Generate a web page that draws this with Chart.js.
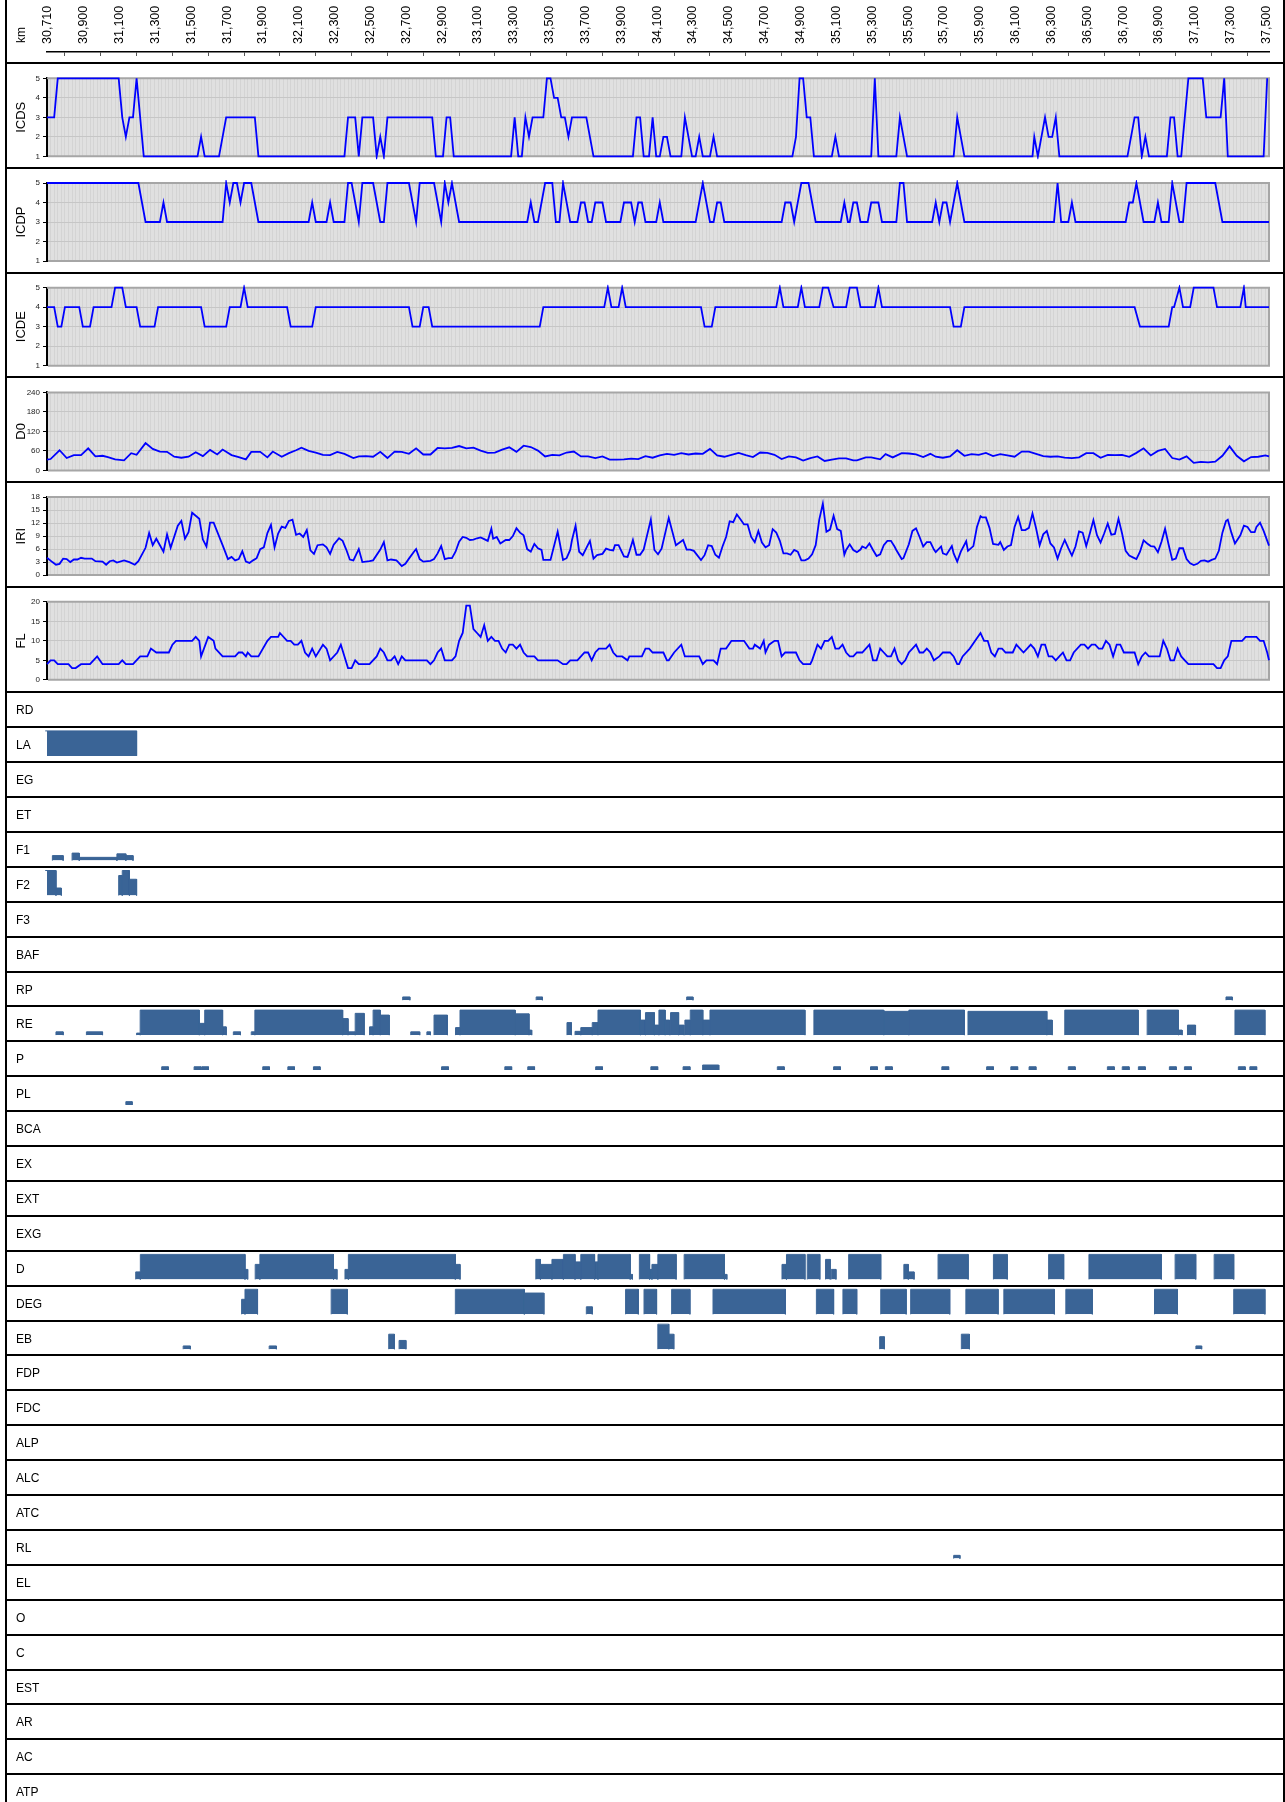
<!DOCTYPE html>
<html>
<head>
<meta charset="utf-8">
<script src="https://cdn.jsdelivr.net/npm/chart.js@4.4.0/dist/chart.umd.min.js"></script>
<style>
  body { margin: 0; background: #fff; font-family: 'Liberation Sans', Arial, sans-serif; }
  #page { position: relative; width: 1285px; height: 1802px; overflow: hidden; background: #fff; }
  #page canvas { position: absolute; left: 0; }
  .sep { position: absolute; left: 5px; width: 1280px; height: 2px; background: #000; z-index: 2; }
  .vline { position: absolute; top: 0; width: 2px; height: 1802px; background: #000; z-index: 2; }
  .lab { position: absolute; left: 16px; font-size: 12px; color: #000; height: 34px; line-height: 34px; z-index: 3; }
  #km { position: absolute; left: 14px; top: 43px; font-size: 12px; transform: rotate(-90deg); transform-origin: 0 0; z-index: 3; }
</style>
</head>
<body>
<div id="page"><div id="km">km</div></div>
<script>
const X_MIN = 30710, X_MAX = 37530;

const kmLabels = ['30,710','30,900','31,100','31,300','31,500','31,700','31,900','32,100','32,300',
  '32,500','32,700','32,900','33,100','33,300','33,500','33,700','33,900','34,100','34,300','34,500',
  '34,700','34,900','35,100','35,300','35,500','35,700','35,900','36,100','36,300','36,500','36,700',
  '36,900','37,100','37,300','37,500'];

// [km (m), value]
const icds = [[30710,3],[30750,3],[30770,5],[31110,5],[31130,3],[31150,2],[31170,3],[31190,3],[31210,5],[31250,1],[31550,1],[31570,2],[31590,1],[31670,1],[31710,3],[31870,3],[31890,1],[32370,1],[32390,3],[32430,3],[32450,1],[32470,3],[32530,3],[32550,1],[32570,2],[32590,1],[32610,3],[32860,3],[32880,1],[32920,1],[32940,3],[32960,3],[32980,1],[33300,1],[33320,3],[33340,1],[33360,1],[33380,3],[33400,2],[33420,3],[33480,3],[33500,5],[33520,5],[33540,4],[33560,4],[33580,3],[33600,3],[33620,2],[33640,3],[33720,3],[33760,1],[33980,1],[34000,3],[34020,3],[34040,1],[34070,1],[34090,3],[34110,1],[34130,1],[34150,2],[34170,2],[34190,1],[34250,1],[34270,3],[34310,1],[34330,1],[34350,2],[34370,1],[34410,1],[34430,2],[34450,1],[34870,1],[34890,2],[34910,5],[34930,5],[34950,3],[34970,3],[34990,1],[35090,1],[35110,2],[35130,1],[35310,1],[35330,5],[35350,1],[35450,1],[35470,3],[35510,1],[35770,1],[35790,3],[35830,1],[36210,1],[36220,2],[36240,1],[36280,3],[36300,2],[36320,2],[36340,3],[36360,1],[36740,1],[36780,3],[36800,3],[36820,1],[36840,2],[36860,1],[36960,1],[36980,3],[37000,3],[37020,1],[37040,1],[37080,5],[37160,5],[37180,3],[37260,3],[37280,5],[37300,1],[37500,1],[37520,5]];

const icdp = [[30710,5],[31220,5],[31260,3],[31340,3],[31360,4],[31380,3],[31690,3],[31710,5],[31730,4],[31750,5],[31770,5],[31790,4],[31810,5],[31850,5],[31890,3],[32170,3],[32190,4],[32210,3],[32270,3],[32290,4],[32310,3],[32370,3],[32390,5],[32410,5],[32450,3],[32470,5],[32530,5],[32570,3],[32590,3],[32610,5],[32730,5],[32770,3],[32790,5],[32870,5],[32910,3],[32930,5],[32950,4],[32970,5],[33010,3],[33390,3],[33410,4],[33430,3],[33450,3],[33490,5],[33530,5],[33550,3],[33570,3],[33590,5],[33630,3],[33670,3],[33690,4],[33710,4],[33730,3],[33750,3],[33770,4],[33810,4],[33830,3],[33910,3],[33930,4],[33970,4],[33990,3],[34010,4],[34030,4],[34050,3],[34110,3],[34130,4],[34150,3],[34330,3],[34370,5],[34410,3],[34430,3],[34450,4],[34470,4],[34490,3],[34810,3],[34830,4],[34860,4],[34880,3],[34920,5],[34960,5],[35000,3],[35140,3],[35160,4],[35180,3],[35190,3],[35210,4],[35230,4],[35250,3],[35290,3],[35310,4],[35350,4],[35370,3],[35450,3],[35470,5],[35490,5],[35510,3],[35650,3],[35670,4],[35690,3],[35710,4],[35730,4],[35750,3],[35790,5],[35830,3],[36330,3],[36350,5],[36370,3],[36410,3],[36430,4],[36450,3],[36730,3],[36750,4],[36770,4],[36790,5],[36830,3],[36890,3],[36910,4],[36930,3],[36970,3],[36990,5],[37030,3],[37050,3],[37070,5],[37230,5],[37270,3],[37530,3]];

const icde = [[30710,4],[30750,4],[30770,3],[30790,3],[30810,4],[30890,4],[30910,3],[30950,3],[30970,4],[31070,4],[31090,5],[31130,5],[31150,4],[31210,4],[31230,3],[31310,3],[31330,4],[31570,4],[31590,3],[31710,3],[31730,4],[31790,4],[31810,5],[31830,4],[32050,4],[32070,3],[32190,3],[32210,4],[32730,4],[32750,3],[32790,3],[32810,4],[32840,4],[32860,3],[33460,3],[33480,4],[33820,4],[33840,5],[33860,4],[33900,4],[33920,5],[33940,4],[34360,4],[34380,3],[34420,3],[34440,4],[34780,4],[34800,5],[34820,4],[34900,4],[34920,5],[34940,4],[35020,4],[35040,5],[35070,5],[35100,4],[35170,4],[35190,5],[35230,5],[35250,4],[35330,4],[35350,5],[35370,4],[35750,4],[35770,3],[35810,3],[35830,4],[36780,4],[36810,3],[36970,3],[36990,4],[37000,4],[37030,5],[37050,4],[37090,4],[37110,5],[37220,5],[37240,4],[37370,4],[37390,5],[37400,4],[37530,4]];

const d0 = [[30710,33],[30730,35],[30780,62],[30820,38],[30860,47],[30900,47],[30940,68],[30980,43],[31020,45],[31050,41],[31090,34],[31140,31],[31180,53],[31210,48],[31260,84],[31300,66],[31340,58],[31380,57],[31420,42],[31460,39],[31500,42],[31540,56],[31580,44],[31620,63],[31660,49],[31690,64],[31740,47],[31780,41],[31820,34],[31850,57],[31900,57],[31940,40],[31970,58],[32020,42],[32060,53],[32100,62],[32130,70],[32170,60],[32210,55],[32250,48],[32290,47],[32330,57],[32370,51],[32420,38],[32450,43],[32490,44],[32530,42],[32570,57],[32610,38],[32650,58],[32690,57],[32730,51],[32770,68],[32810,49],[32850,49],[32890,69],[32930,68],[32970,69],[33010,75],[33050,68],[33090,70],[33130,61],[33170,54],[33210,55],[33250,64],[33290,71],[33330,57],[33370,76],[33410,72],[33450,61],[33490,43],[33530,48],[33570,46],[33610,55],[33650,58],[33690,43],[33730,43],[33770,38],[33810,43],[33850,33],[33890,33],[33930,34],[33970,36],[34010,35],[34050,44],[34090,39],[34130,46],[34170,51],[34210,48],[34250,53],[34290,49],[34330,52],[34370,51],[34410,66],[34450,46],[34490,42],[34530,48],[34570,54],[34610,47],[34650,41],[34690,55],[34730,54],[34770,48],[34810,35],[34850,43],[34890,40],[34930,30],[34970,38],[35010,43],[35050,29],[35090,33],[35130,37],[35170,37],[35210,31],[35230,31],[35280,40],[35310,40],[35360,34],[35390,50],[35430,40],[35480,53],[35520,52],[35560,49],[35600,41],[35640,51],[35670,42],[35710,39],[35750,43],[35790,62],[35830,45],[35870,50],[35910,48],[35950,54],[35990,44],[36030,50],[36070,46],[36110,42],[36150,58],[36190,58],[36230,51],[36270,44],[36310,42],[36350,43],[36390,39],[36430,38],[36470,40],[36510,53],[36550,53],[36590,39],[36630,48],[36670,47],[36710,48],[36750,42],[36790,54],[36830,68],[36870,46],[36910,60],[36950,66],[36990,38],[37030,33],[37070,43],[37110,23],[37150,26],[37190,25],[37230,27],[37270,45],[37310,74],[37350,45],[37390,28],[37430,41],[37470,42],[37510,46],[37530,43]];

const iri = [[30710,4.0],[30740,3.0],[30760,2.4],[30780,2.6],[30800,3.8],[30820,3.7],[30840,3.0],[30860,3.6],[30880,3.6],[30900,4.0],[30920,3.8],[30960,3.8],[30980,3.2],[31020,3.1],[31040,2.4],[31060,3.2],[31080,3.4],[31100,2.9],[31140,3.4],[31170,3.0],[31200,2.4],[31220,3.2],[31260,6.3],[31280,9.7],[31300,6.9],[31320,8.4],[31360,5.4],[31380,9.4],[31400,6.3],[31440,11.4],[31460,12.5],[31480,8.4],[31500,9.9],[31520,14.4],[31560,13.0],[31580,8.2],[31600,6.6],[31620,12.1],[31640,12.1],[31690,6.9],[31720,3.7],[31740,4.2],[31760,3.4],[31780,3.7],[31800,5.5],[31820,3.1],[31840,2.8],[31860,3.4],[31880,3.9],[31900,6.0],[31920,6.4],[31940,9.7],[31960,11.6],[31980,6.4],[32000,9.6],[32020,11.2],[32040,10.9],[32060,12.5],[32080,12.8],[32100,9.3],[32120,9.6],[32140,8.8],[32160,10.4],[32180,5.7],[32200,4.9],[32220,6.9],[32250,7.1],[32270,6.4],[32290,4.9],[32310,7.0],[32340,8.5],[32360,7.9],[32380,5.9],[32400,3.6],[32420,3.4],[32450,6.0],[32470,3.0],[32510,3.2],[32530,3.4],[32570,5.9],[32590,7.6],[32610,3.4],[32630,3.6],[32660,3.4],[32670,3.0],[32690,2.1],[32710,2.6],[32730,3.8],[32760,5.5],[32770,6.0],[32790,3.7],[32810,3.1],[32850,3.3],[32870,3.7],[32890,5.0],[32910,6.7],[32930,3.7],[32950,3.9],[32970,3.9],[32990,5.4],[33010,7.7],[33030,8.8],[33050,8.6],[33070,8.1],[33090,8.2],[33110,8.5],[33130,8.7],[33150,8.3],[33170,7.9],[33190,10.7],[33200,8.4],[33220,8.8],[33240,7.3],[33270,8.1],[33290,8.1],[33310,9.0],[33330,10.8],[33350,9.8],[33370,9.2],[33390,6.0],[33410,5.4],[33430,7.2],[33450,6.2],[33470,5.8],[33480,3.5],[33520,3.5],[33560,10.0],[33590,3.5],[33610,3.9],[33630,5.8],[33640,8.1],[33660,11.4],[33680,5.4],[33700,4.6],[33740,7.9],[33760,3.8],[33780,4.6],[33810,4.9],[33830,6.1],[33850,5.8],[33870,5.7],[33880,6.9],[33900,6.9],[33930,4.3],[33950,4.2],[33960,5.4],[33980,8.1],[34000,4.7],[34020,4.7],[34040,5.9],[34080,12.8],[34100,5.8],[34120,4.8],[34140,6.1],[34180,13.2],[34220,6.9],[34260,8.1],[34280,5.9],[34300,5.9],[34320,5.6],[34360,3.5],[34380,4.6],[34400,6.9],[34420,6.7],[34440,4.7],[34460,4.0],[34480,6.6],[34500,8.8],[34520,12.4],[34540,12.2],[34560,14.0],[34580,12.9],[34600,11.7],[34620,11.7],[34640,8.8],[34660,7.6],[34680,10.2],[34700,7.5],[34720,6.4],[34740,6.9],[34760,10.6],[34780,9.8],[34800,7.9],[34820,5.0],[34840,5.0],[34860,4.7],[34880,5.8],[34900,5.4],[34920,3.4],[34940,3.4],[34960,3.8],[34980,4.8],[35000,6.9],[35020,12.8],[35040,16.5],[35060,10.0],[35080,10.5],[35100,13.7],[35120,10.6],[35140,10.2],[35160,4.7],[35170,5.8],[35190,7.1],[35210,5.8],[35230,5.3],[35250,5.9],[35260,6.6],[35280,6.2],[35300,7.3],[35320,5.8],[35340,4.4],[35360,4.8],[35380,6.9],[35400,7.9],[35420,7.9],[35440,6.6],[35450,5.8],[35480,3.7],[35490,3.9],[35520,7.1],[35540,10.2],[35560,10.8],[35580,8.8],[35600,6.6],[35620,7.6],[35640,7.6],[35660,5.9],[35670,5.3],[35700,6.6],[35710,5.0],[35730,4.7],[35760,6.7],[35770,5.0],[35790,3.1],[35810,5.4],[35840,7.8],[35850,5.6],[35880,6.7],[35900,11.1],[35920,13.6],[35930,13.3],[35950,13.3],[35970,10.9],[35990,7.2],[36020,7.0],[36030,7.6],[36050,5.8],[36070,6.6],[36090,6.9],[36110,11.1],[36130,13.4],[36150,10.4],[36170,10.4],[36190,10.9],[36210,14.2],[36230,10.8],[36250,6.9],[36270,9.4],[36290,10.2],[36310,7.3],[36330,6.4],[36350,3.8],[36370,6.2],[36390,8.1],[36410,6.2],[36430,4.5],[36450,6.6],[36470,10.1],[36490,9.8],[36510,6.7],[36530,9.6],[36550,12.7],[36570,9.2],[36590,7.5],[36610,9.6],[36630,11.9],[36650,9.3],[36670,9.5],[36690,13.0],[36710,9.6],[36730,5.6],[36750,4.5],[36770,4.1],[36790,3.7],[36810,5.4],[36830,8.0],[36850,7.3],[36870,6.7],[36890,6.6],[36910,5.3],[36930,7.7],[36950,10.7],[36970,7.0],[36990,3.5],[37010,3.8],[37030,6.2],[37050,6.2],[37070,3.7],[37090,2.7],[37110,2.3],[37130,2.6],[37150,3.3],[37170,3.4],[37190,3.1],[37210,3.5],[37230,3.8],[37250,5.6],[37270,9.8],[37290,12.5],[37300,12.8],[37320,9.8],[37340,7.3],[37370,9.2],[37390,11.4],[37410,11.1],[37430,9.9],[37450,9.9],[37460,11.1],[37480,12.1],[37500,10.2],[37530,6.8]];

const fl = [[30710,4],[30730,5],[30750,5],[30770,4],[30830,4],[30850,3],[30870,3],[30900,4],[30950,4],[30990,6],[31020,4],[31110,4],[31130,5],[31150,4],[31190,4],[31230,6],[31270,6],[31290,8],[31320,7],[31390,7],[31410,9],[31430,10],[31520,10],[31540,11],[31560,10],[31570,6],[31610,11],[31640,10],[31650,8],[31690,6],[31760,6],[31780,7],[31800,7],[31820,6],[31830,7],[31850,6],[31890,6],[31940,10],[31960,11],[32000,11],[32010,12],[32050,10],[32070,10],[32090,9],[32110,9],[32130,10],[32150,7],[32170,6],[32190,8],[32210,6],[32250,9],[32270,8],[32290,5],[32330,7],[32350,9],[32390,3],[32410,3],[32430,5],[32450,4],[32510,4],[32550,6],[32570,8],[32590,7],[32610,5],[32630,5],[32650,6],[32670,4],[32690,6],[32710,5],[32830,5],[32850,4],[32870,5],[32890,7],[32910,8],[32930,5],[32970,5],[32990,6],[33010,10],[33030,12],[33050,19],[33070,19],[33090,13],[33110,12],[33130,11],[33150,14],[33170,10],[33190,11],[33210,10],[33230,10],[33250,8],[33270,7],[33290,9],[33310,9],[33330,8],[33350,9],[33370,7],[33390,6],[33430,6],[33450,5],[33560,5],[33590,4],[33610,4],[33630,5],[33670,5],[33710,7],[33730,7],[33750,5],[33770,7],[33790,8],[33830,8],[33850,9],[33870,7],[33890,6],[33920,6],[33950,5],[33960,6],[34030,6],[34050,8],[34070,8],[34090,7],[34150,7],[34170,5],[34180,5],[34210,7],[34250,9],[34270,6],[34350,6],[34370,4],[34390,5],[34430,5],[34450,4],[34470,8],[34500,8],[34530,10],[34600,10],[34630,8],[34650,8],[34660,9],[34690,8],[34710,10],[34720,7],[34740,9],[34770,10],[34790,10],[34810,6],[34830,7],[34890,7],[34910,5],[34930,4],[34970,4],[34980,5],[35010,9],[35030,8],[35050,10],[35070,10],[35090,11],[35110,8],[35130,8],[35150,9],[35170,7],[35190,6],[35210,6],[35230,7],[35260,7],[35280,8],[35300,9],[35320,5],[35340,5],[35360,8],[35380,7],[35400,6],[35420,6],[35440,8],[35460,5],[35480,4],[35500,5],[35520,7],[35540,8],[35560,9],[35580,7],[35600,7],[35620,8],[35640,7],[35660,5],[35690,6],[35710,7],[35750,7],[35770,6],[35790,4],[35800,4],[35820,6],[35860,8],[35890,10],[35920,12],[35940,10],[35960,10],[35980,7],[36000,6],[36020,8],[36040,8],[36060,7],[36100,7],[36120,9],[36140,8],[36160,7],[36180,8],[36200,9],[36220,8],[36240,6],[36260,9],[36280,9],[36300,6],[36320,6],[36340,5],[36360,6],[36380,7],[36400,5],[36420,5],[36440,7],[36480,9],[36500,9],[36520,8],[36540,9],[36560,9],[36580,8],[36600,8],[36620,10],[36640,9],[36660,6],[36680,9],[36700,9],[36720,7],[36780,7],[36800,4],[36820,6],[36840,7],[36860,6],[36920,6],[36940,10],[36960,8],[36980,5],[37000,5],[37020,8],[37040,6],[37060,5],[37080,4],[37220,4],[37240,3],[37260,3],[37280,5],[37300,6],[37320,10],[37380,10],[37400,11],[37460,11],[37480,10],[37500,10],[37520,7],[37530,5]];

// defect strips: [from m, to m, level 0-100]
const segLA = [[30700,31210,100]];
const segF1 = [[30740,30800,20],[30850,30890,30],[30890,31100,13],[31100,31150,27],[31150,31190,20]];
const segF2 = [[30700,30760,100],[30760,30790,30],[31110,31130,80],[31130,31170,100],[31170,31210,65]];
const segRP = [[32695,32735,13],[33440,33475,13],[34280,34315,13],[37290,37325,13]];
const segRE = [[30760,30800,13],[30930,31020,13],[31210,31230,8],[31230,31560,100],[31560,31590,47],[31590,31690,100],[31690,31710,33],[31750,31790,13],[31850,31870,13],[31870,32360,100],[32360,32390,66],[32390,32430,13],[32430,32480,87],[32510,32530,33],[32530,32570,100],[32570,32620,80],[32740,32790,13],[32830,32850,13],[32870,32945,80],[32990,33015,30],[33015,33323,100],[33323,33400,85],[33400,33415,20],[33612,33637,50],[33657,33689,15],[33689,33753,30],[33753,33785,50],[33785,34022,100],[34022,34050,60],[34050,34100,90],[34100,34125,40],[34125,34160,100],[34160,34185,60],[34190,34235,90],[34235,34265,40],[34270,34300,60],[34300,34370,100],[34370,34410,60],[34410,34940,100],[34990,35380,100],[35380,35520,95],[35520,35830,100],[35850,36290,95],[36290,36320,60],[36390,36800,100],[36850,37025,100],[37025,37045,20],[37075,37120,40],[37340,37507,100]];
const segP = [[31350,31387,13],[31531,31570,13],[31575,31611,13],[31914,31951,13],[32054,32091,13],[32197,32234,13],[32912,32950,13],[33265,33303,13],[33393,33431,13],[33772,33810,13],[34080,34118,13],[34260,34298,13],[34369,34459,20],[34786,34824,13],[35100,35138,13],[35306,35344,13],[35389,35427,13],[35704,35742,13],[35954,35992,13],[36089,36127,13],[36191,36229,13],[36410,36448,13],[36628,36666,13],[36711,36749,13],[36801,36839,13],[36974,37012,13],[37058,37096,13],[37359,37397,13],[37423,37461,13]];
const segPL = [[31150,31185,13]];
const segD = [[31205,31231,30],[31231,31815,100],[31815,31830,40],[31872,31898,60],[31898,32309,100],[32309,32328,40],[32373,32392,40],[32392,32989,100],[32989,33015,60],[33438,33464,80],[33464,33528,60],[33528,33592,80],[33592,33657,100],[33657,33689,70],[33689,33766,100],[33766,33785,70],[33785,33965,100],[33965,33977,20],[34016,34073,100],[34073,34086,40],[34086,34119,60],[34119,34221,100],[34266,34491,100],[34491,34504,20],[34812,34837,60],[34837,34940,100],[34953,35023,100],[35055,35081,80],[35087,35113,40],[35184,35363,100],[35492,35517,60],[35517,35549,30],[35683,35851,100],[35992,36069,100],[36300,36384,100],[36525,36929,100],[37006,37121,100],[37224,37333,100]];
const segDEG = [[31796,31815,60],[31815,31885,100],[32296,32386,100],[32989,33374,100],[33374,33483,85],[33720,33753,30],[33939,34010,100],[34042,34112,100],[34196,34298,100],[34427,34831,100],[35004,35100,100],[35152,35229,100],[35363,35505,100],[35530,35748,100],[35838,36018,100],[36050,36332,100],[36396,36544,100],[36891,37019,100],[37333,37507,100]];
const segEB = [[31470,31510,13],[31950,31990,13],[32617,32649,60],[32675,32713,35],[34119,34180,100],[34180,34208,60],[35357,35383,50],[35813,35858,60],[37122,37154,13]];
const segRL = [[35770,35805,13]];

const rowNames = ['RD','LA','EG','ET','F1','F2','F3','BAF','RP','RE','P','PL','BCA','EX','EXT','EXG','D','DEG','EB','FDP','FDC','ALP','ALC','ATC','RL','EL','O','C','EST','AR','AC','ATP'];
const rowSegs = { LA: segLA, F1: segF1, F2: segF2, RP: segRP, RE: segRE, P: segP, PL: segPL, D: segD, DEG: segDEG, EB: segEB, RL: segRL };

Chart.defaults.font.family = "'Liberation Sans', Arial, sans-serif";
const page = document.getElementById('page');

function addCanvas(top, height) {
  const c = document.createElement('canvas');
  c.width = 1285; c.height = height;
  c.style.top = top + 'px';
  page.appendChild(c);
  return c;
}
function addDiv(cls, css, text) {
  const d = document.createElement('div');
  d.className = cls;
  Object.assign(d.style, css);
  if (text) d.textContent = text;
  page.appendChild(d);
}

const plotBg = {
  id: 'plotBg',
  beforeDraw(chart) {
    const { ctx, chartArea: a } = chart;
    ctx.save();
    ctx.fillStyle = '#e0e0e0';
    ctx.fillRect(a.left, a.top, a.right - a.left, a.bottom - a.top);
    ctx.restore();
  },
  beforeDatasetsDraw(chart) {
    const { ctx, chartArea: a } = chart;
    ctx.save();
    ctx.strokeStyle = '#a6a6a6';
    ctx.lineWidth = 2;
    ctx.beginPath();
    ctx.moveTo(a.left, a.top); ctx.lineTo(a.right, a.top);
    ctx.lineTo(a.right, a.bottom); ctx.lineTo(a.left + 1, a.bottom);
    ctx.stroke();
    ctx.restore();
  }
};

// header with km ticks
(function () {
  const c = addCanvas(0, 63);
  new Chart(c, {
    type: 'line',
    data: { datasets: [] },
    options: {
      responsive: false, animation: false, events: [],
      layout: { padding: { left: 47, right: 16, top: 0, bottom: 7 } },
      plugins: { legend: { display: false }, tooltip: { enabled: false } },
      scales: {
        x: {
          type: 'linear', position: 'top', min: X_MIN, max: X_MAX,
          afterBuildTicks(s) { s.ticks = kmLabels.map((l, i) => ({ value: X_MIN + 200 * i })); },
          afterFit(s) { s.height = 52; },
          ticks: { autoSkip: false, minRotation: 90, maxRotation: 90, padding: 8, labelOffset: 16,
                   color: '#000', font: { size: 12.5 }, callback: (v, i) => kmLabels[i] },
          grid: { offset: true, drawTicks: false, color: '#555', lineWidth: 1 },
          border: { color: '#000', width: 1.5 }
        },
        y: { display: false, min: 0, max: 1 }
      }
    }
  });
})();

function linePanel(idx, title, pts, yMin, yMax, step) {
  const sep = 63.3 + 104.7 * idx;
  const top = Math.floor(sep), h = 105;
  const c = addCanvas(top, h);
  new Chart(c, {
    type: 'line',
    data: { datasets: [{ data: pts.map(p => ({ x: p[0], y: p[1] })), borderColor: '#0000ff',
      borderWidth: 1.8, pointRadius: 0, tension: 0, fill: false, clip: 3 }] },
    options: {
      responsive: false, animation: false, events: [], parsing: false,
      layout: { padding: { left: 0, right: 16, top: sep + 15 - top, bottom: top + h - (sep + 93) } },
      plugins: { legend: { display: false }, tooltip: { enabled: false } },
      scales: {
        x: { type: 'linear', min: X_MIN, max: X_MAX, ticks: { display: false, stepSize: 20 },
             grid: { color: 'rgba(0,0,0,0.05)', drawTicks: false }, border: { display: false },
             afterFit(s) { s.height = 0; } },
        y: { min: yMin, max: yMax,
             ticks: { stepSize: step, font: { size: 8 }, color: '#222', padding: 3 },
             grid: { color: '#c6c6c6', tickLength: 4, tickColor: '#000' },
             border: { color: '#000', width: 2 },
             title: { display: true, text: title, color: '#000', font: { size: 13 }, padding: { top: 14 } },
             afterFit(s) { s.width = 47; } }
      }
    },
    plugins: [plotBg]
  });
}

linePanel(0, 'ICDS', icds, 1, 5, 1);
linePanel(1, 'ICDP', icdp, 1, 5, 1);
linePanel(2, 'ICDE', icde, 1, 5, 1);
linePanel(3, 'D0', d0, 0, 240, 60);
linePanel(4, 'IRI', iri, 0, 18, 3);
linePanel(5, 'FL', fl, 0, 20, 5);

function stripRow(i, name, segs) {
  const sep = 692.3 + 34.9 * i;
  addDiv('lab', { top: (sep + 1) + 'px' }, name);
  if (!segs || !segs.length) return;
  const top = Math.floor(sep), h = 36;
  const pts = [];
  segs.forEach(s => {
    pts.push({ x: s[0], y: 0 }, { x: s[0], y: s[2] }, { x: s[1], y: s[2] }, { x: s[1], y: 0 }, { x: s[1], y: null });
  });
  const c = addCanvas(top, h);
  new Chart(c, {
    type: 'line',
    data: { datasets: [{ data: pts, borderColor: '#3a6496', backgroundColor: '#3a6496', borderWidth: 1,
      borderJoinStyle: 'round', pointRadius: 0, tension: 0, fill: 'origin', spanGaps: false, clip: false }] },
    options: {
      responsive: false, animation: false, events: [], parsing: false,
      layout: { padding: { left: 47, right: 16, top: sep + 3.7 - top, bottom: top + h - (sep + 28.7) } },
      plugins: { legend: { display: false }, tooltip: { enabled: false } },
      scales: {
        x: { type: 'linear', display: false, min: X_MIN, max: X_MAX },
        y: { display: false, min: 0, max: 100 }
      }
    }
  });
}
rowNames.forEach((n, i) => stripRow(i, n, rowSegs[n]));

// frame lines
for (let i = 0; i < 7; i++) addDiv('sep', { top: (63.3 + 104.7 * i - 1) + 'px' });
for (let i = 0; i < 32; i++) addDiv('sep', { top: (692.3 + 34.9 * i - 1) + 'px' });
addDiv('vline', { left: '5px' });
addDiv('vline', { left: '1283px' });
</script>
</body>
</html>
